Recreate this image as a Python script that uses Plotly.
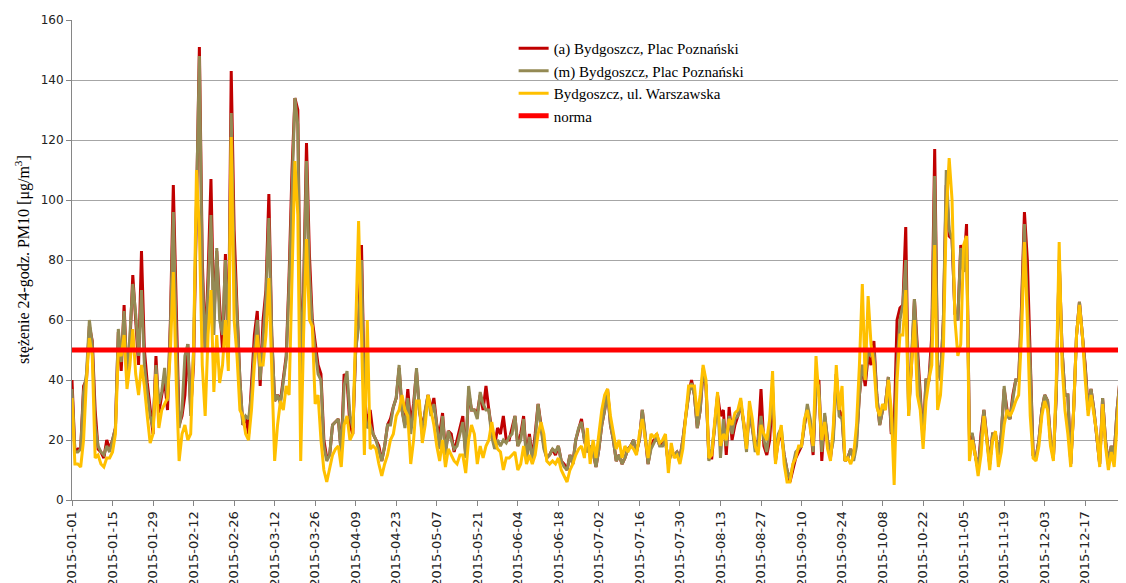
import pandas as pd
import plotly.graph_objects as go

# ---------------- data (daily 24-h PM10, 2015) ----------------
SERIES_A_NAME = "(a) Bydgoszcz, Plac Poznański"
SERIES_M_NAME = "(m) Bydgoszcz, Plac Poznański"
SERIES_W_NAME = "Bydgoszcz, ul. Warszawska"
NORM_NAME = "norma"
NORM_LIMIT = 50

A_JAN = [40,16,17,17,38,40,58,53,30,17,16,14,20,17,20,24,56,43,65,40,52,75,60,45,83,50,39,30,22,48,29]
A_FEB = [35,40,30,60,105,62,25,28,35,52,30,45,100,151,80,50,75,107,60,83,65,50,82,48,143,90,64,40]
A_MAR = [25,28,22,40,55,63,38,60,70,102,55,33,35,33,40,48,75,110,134,130,45,70,119,82,60,52,45,42,20,14,15]
A_APR = [25,26,27,16,42,40,25,22,50,60,85,35,25,30,22,20,18,13,18,25,27,31,34,44,30,25,37,25,32,43]
A_MAY = [30,24,30,35,30,34,25,22,29,16,23,22,16,20,24,28,15,36,30,30,29,35,30,38,30,23,18,24,22,28,20]
A_JUN = [20,24,28,18,22,28,14,22,14,22,32,25,18,14,15,17,15,18,13,12,10,15,12,20,24,27,20,16,18,16]
A_JUL = [11,17,25,30,37,25,20,13,15,12,14,17,18,20,16,20,30,22,12,18,20,22,18,19,20,12,16,15,16,14,20]
A_AUG = [28,35,40,35,24,30,43,38,14,14,25,35,28,30,15,31,20,25,28,32,26,18,30,24,18,20,37,18,15,20,36]
A_SEP = [13,20,22,15,10,6,10,14,16,18,25,30,26,15,38,40,13,28,20,14,22,42,30,28,13,14,17,14,20,35]
A_OCT = [45,38,48,45,53,35,25,30,32,41,22,25,60,64,65,91,30,45,67,50,35,20,40,40,55,117,45,40,60,105,88]
A_NOV = [87,62,60,85,76,92,20,22,15,10,22,30,20,12,22,22,15,22,37,30,27,35,40,40,65,96,80,50,15,14]
A_DEC = [20,30,35,33,20,14,35,80,50,35,35,12,30,55,66,55,45,30,37,30,22,12,34,20,12,18,15,30,40,62,65]

M_JAN = [37,16,16,17,36,42,60,52,25,18,16,15,18,16,20,24,57,46,63,40,55,72,62,48,70,45,36,28,24,45,32]
M_FEB = [36,44,33,58,96,55,24,30,48,52,28,50,95,148,75,50,70,95,55,84,60,55,80,48,129,80,62,40]
M_MAR = [25,28,27,35,50,60,40,55,68,94,55,33,35,32,40,47,72,105,134,125,42,68,113,75,58,50,42,40,18,13,15]
M_APR = [25,26,27,15,38,43,28,24,50,58,80,30,24,25,22,20,16,13,18,25,25,31,34,45,30,24,34,22,30,44]
M_MAY = [30,22,30,35,28,32,25,17,28,15,23,20,17,18,22,26,14,38,30,30,27,36,32,30,30,21,17,20,18,20,19]
M_JUN = [21,22,28,18,20,27,13,21,13,20,32,24,17,14,15,17,16,18,13,11,10,15,12,20,24,26,20,16,18,16]
M_JUL = [11,17,25,30,36,25,20,13,15,12,14,17,18,20,16,20,30,22,12,17,19,21,18,18,20,12,16,15,16,14,20]
M_AUG = [27,35,39,35,24,30,44,38,13,17,24,34,14,27,18,28,22,27,28,33,25,16,30,24,16,20,28,20,16,25,38]
M_SEP = [14,22,24,15,10,7,11,16,17,18,25,32,27,16,38,38,16,29,20,15,20,42,28,27,13,14,17,13,18,35]
M_OCT = [45,40,50,48,50,35,25,30,32,41,23,20,45,60,65,80,28,48,67,48,35,20,40,40,50,108,45,40,60,110,90]
M_NOV = [87,62,60,84,76,88,22,22,15,10,20,30,20,12,22,22,15,22,38,28,27,33,40,40,62,92,65,45,15,14]
M_DEC = [20,30,35,33,20,14,35,80,50,35,35,12,30,55,66,55,44,30,37,30,22,12,34,20,12,18,15,30,40,62,65]

W_JAN = [34,12,12,11,20,40,54,48,14,15,12,11,14,14,16,22,50,48,55,37,45,57,42,35,45,38,28,19,22,42,24]
W_FEB = [30,32,34,50,76,40,13,22,25,20,22,50,110,90,45,28,55,70,36,55,39,45,60,43,121,60,48,30]
W_MAR = [28,22,20,30,45,55,45,45,55,74,40,13,25,33,30,38,35,75,113,95,13,55,87,60,58,32,35,20,10,6,10]
W_APR = [15,17,18,11,25,28,20,22,60,93,55,15,60,17,18,17,12,8,12,15,20,22,28,30,35,30,28,12,20,33]
W_MAY = [33,19,25,35,30,25,18,13,20,11,17,15,13,12,15,15,9,20,25,22,12,18,14,18,20,26,20,17,16,10,14]
W_JUN = [14,15,16,10,12,18,12,15,12,15,22,26,22,13,12,13,12,14,10,8,6,10,12,15,17,18,14,24,12,20]
W_JUL = [14,22,30,35,37,28,22,17,20,14,18,16,18,17,15,22,27,20,14,22,21,22,19,20,22,9,19,14,15,12,17]
W_AUG = [28,38,38,38,28,35,45,40,14,15,26,36,18,22,20,27,25,29,30,34,26,17,33,27,18,15,25,22,20,27,43]
W_SEP = [12,20,25,12,6,6,12,14,18,18,27,30,24,18,48,35,20,26,17,13,25,45,30,38,13,14,12,15,25,45]
W_OCT = [72,40,68,52,45,31,28,32,30,40,30,5,40,55,55,70,28,45,60,35,30,17,33,40,45,85,30,35,50,95,114]
W_NOV = [100,60,48,52,85,88,13,20,15,8,15,28,20,10,20,23,11,16,25,30,28,30,33,35,55,86,60,28,14,13]
W_DEC = [18,28,33,30,18,13,40,86,45,30,22,11,30,55,65,55,40,28,35,28,22,11,32,18,10,16,11,25,38,60,62]

TICK_LABELS = ["2015-01-01","2015-01-15","2015-01-29","2015-02-12","2015-02-26","2015-03-12",
               "2015-03-26","2015-04-09","2015-04-23","2015-05-07","2015-05-21","2015-06-04",
               "2015-06-18","2015-07-02","2015-07-16","2015-07-30","2015-08-13","2015-08-27",
               "2015-09-10","2015-09-24","2015-10-08","2015-10-22","2015-11-05","2015-11-19",
               "2015-12-03","2015-12-17","2015-12-31"]

X_RANGE = ["2015-01-01", "2015-12-31 02:00"]

Y_TITLE = "stężenie 24-godz. PM10 [μg/m<sup>3</sup>]"

# ---------------- assemble ----------------
series_a = A_JAN + A_FEB + A_MAR + A_APR + A_MAY + A_JUN + A_JUL + A_AUG + A_SEP + A_OCT + A_NOV + A_DEC
series_m = M_JAN + M_FEB + M_MAR + M_APR + M_MAY + M_JUN + M_JUL + M_AUG + M_SEP + M_OCT + M_NOV + M_DEC
series_w = W_JAN + W_FEB + W_MAR + W_APR + W_MAY + W_JUN + W_JUL + W_AUG + W_SEP + W_OCT + W_NOV + W_DEC

dates = pd.date_range("2015-01-01", "2015-12-31", freq="D")

SERIF = "Liberation Serif, Times New Roman, serif"
SANS = "DejaVu Sans, sans-serif"

# page body has an 8px margin; the figure runs 8px past the window edge like the cropped original
FIG_W, FIG_H = 1126, 575
M_L, M_T, M_B, M_R = 64, 12, 83, 8
PLOT_W = FIG_W - M_L - M_R

fig = go.Figure()
fig.add_trace(go.Scatter(x=dates[:len(series_a)], y=series_a, mode="lines", name=SERIES_A_NAME,
                         line=dict(color="#C00000", width=3)))
fig.add_trace(go.Scatter(x=dates[:len(series_m)], y=series_m, mode="lines", name=SERIES_M_NAME,
                         line=dict(color="#948A54", width=3)))
fig.add_trace(go.Scatter(x=dates[:len(series_w)], y=series_w, mode="lines", name=SERIES_W_NAME,
                         line=dict(color="#FFC000", width=3)))
fig.add_trace(go.Scatter(x=[dates[0], dates[-1]], y=[NORM_LIMIT, NORM_LIMIT], mode="lines", name=NORM_NAME,
                         line=dict(color="#FF0000", width=5)))

fig.update_layout(
    width=FIG_W, height=FIG_H,
    margin=dict(l=M_L, r=M_R, t=M_T, b=M_B, pad=0, autoexpand=False),
    paper_bgcolor="white", plot_bgcolor="white",
    showlegend=True,
    legend=dict(x=0.419, y=0.975, xanchor="left", yanchor="top",
                bgcolor="rgba(0,0,0,0)", font=dict(family=SERIF, size=15, color="black"),
                tracegroupgap=0, itemwidth=30),
    xaxis=dict(type="date", range=X_RANGE, automargin=False,
               tickmode="array", tickvals=TICK_LABELS, ticktext=TICK_LABELS,
               tickangle=-90, tickfont=dict(family=SANS, size=13, color="#222"),
               ticklabeloverflow="allow",
               ticks="outside", ticklen=5, tickcolor="#868686",
               showline=True, linecolor="#868686", linewidth=1,
               showgrid=False, zeroline=False),
    yaxis=dict(range=[0, 160], dtick=20, tick0=0, automargin=False,
               tickfont=dict(family=SANS, size=12, color="#222"),
               ticks="outside", ticklen=5, tickcolor="#868686",
               showline=True, linecolor="#868686", linewidth=1,
               showgrid=True, gridcolor="#A6A6A6", gridwidth=1, zeroline=False),
    annotations=[dict(text=Y_TITLE, textangle=-90, xref="paper", yref="paper",
                      x=-50 / PLOT_W, y=0.5, xanchor="center", yanchor="middle", showarrow=False,
                      font=dict(family=SERIF, size=16, color="black"))],
)

fig.write_html("out.html")
